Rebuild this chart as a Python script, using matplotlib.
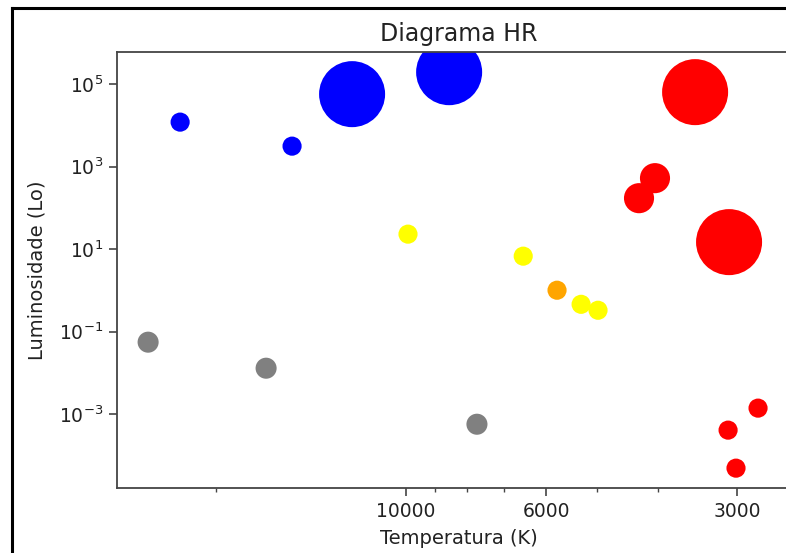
import matplotlib
matplotlib.use('Agg')
import matplotlib.pyplot as plt
from matplotlib.ticker import NullFormatter, NullLocator
from matplotlib.lines import Line2D

# Dados das estrelas
temperatura = [22750, 15140, 12170, 8550, 3494, 4043, 4285, 3088,
               9930, 6530, 5774, 5290, 4974,
               25560, 16640, 7727,
               2779, 3099, 3011]
luminosidade = [12000, 3140, 57200, 195000, 64000, 526, 172, 14.8,
                23.1, 6.76, 1.01, 0.46, 0.33,
                0.0556, 0.013, 0.00057,
                0.0014, 0.00041, 0.0000491]
tamanho = [190, 190, 2260, 2260, 2260, 470, 470, 2260,
           190, 190, 190, 190, 190,
           230, 230, 230,
           190, 190, 190]
cores = ['blue', 'blue', 'blue', 'blue', 'red', 'red', 'red', 'red',
         'yellow', 'yellow', 'orange', 'yellow', 'yellow',
         'gray', 'gray', 'gray',
         'red', 'red', 'red']

xticks = [10000, 6000, 3000]
yticks = [1e-3, 1e-1, 1e1, 1e3, 1e5]

fig = plt.figure(figsize=(7.86, 5.53), dpi=100)
ax = fig.add_axes([0.1489, 0.1175, 0.869, 0.7884])

ax.scatter(temperatura, luminosidade, s=tamanho, c=cores, linewidths=0)

ax.set_xscale('log')
ax.set_yscale('log')
ax.set_xlim(28620, 2385)
ax.set_ylim(1.62e-5, 6.0e5)

ax.set_xticks(xticks, [str(t) for t in xticks])
ax.xaxis.set_minor_formatter(NullFormatter())
ax.set_yticks(yticks)
ax.yaxis.set_minor_locator(NullLocator())

ax.tick_params(which='major', labelsize=13.5, length=5.5, width=1.2, pad=4.5,
               color='#444', labelcolor='#222')
ax.tick_params(which='minor', length=3, width=1.0, color='#444')
for sp in ax.spines.values():
    sp.set_color('#444')
    sp.set_linewidth(1.3)

ax.set_title('Diagrama HR', fontsize=17, color='#222', pad=8)
ax.set_xlabel('Temperatura (K)', fontsize=14, color='#222', labelpad=6)
ax.set_ylabel('Luminosidade (Lo)', fontsize=14, color='#222', labelpad=9)

# moldura da captura de tela
fig.add_artist(Line2D([12 / 786, 12 / 786], [0, 1 - 8 / 553], color='black', lw=2.2, transform=fig.transFigure))
fig.add_artist(Line2D([12 / 786, 1], [1 - 8 / 553, 1 - 8 / 553], color='black', lw=2.2, transform=fig.transFigure))

fig.savefig('out.png', dpi=100)
